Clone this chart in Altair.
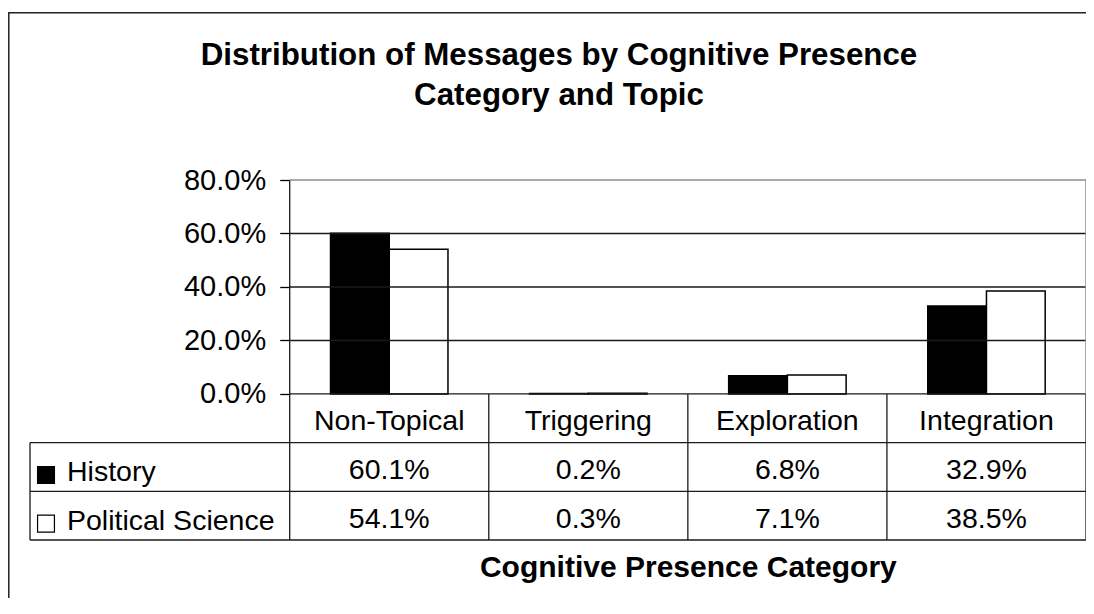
import altair as alt
import pandas as pd

# ---- data ----
categories = ["Non-Topical", "Triggering", "Exploration", "Integration"]
series = ["History", "Political Science"]
history = [60.1, 0.2, 6.8, 32.9]
political_science = [54.1, 0.3, 7.1, 38.5]
y_ticks = [0, 20, 40, 60, 80]
title_lines = ["Distribution of Messages by Cognitive Presence", "Category and Topic"]
x_title = "Cognitive Presence Category"

# ---- layout constants (style, not data) ----
FONT = "Liberation Sans, Arial, sans-serif"
W, H = 1056, 360
NCAT = len(categories)
ROW = 18.2      # table row height in y units
LEG = 1.3046    # legend column width in category-column units
BW = 0.295      # bar width in category-column units
Y_MAX = y_ticks[-1]
Y_MIN = -3 * ROW
PX = W / (NCAT + LEG)
BORDER_TOP = -167.3

xs = alt.Scale(domain=[-LEG, NCAT], nice=False, zero=False)
ys = alt.Scale(domain=[Y_MIN, Y_MAX], nice=False, zero=False)

values = {"History": history, "Political Science": political_science}
rows = []
for si, s in enumerate(series):
    for ci, c in enumerate(categories):
        rows.append({"series": s, "si": si, "cat": c, "ci": ci, "value": values[s][ci]})
df = pd.DataFrame(rows)

fill = alt.Fill("series:N", scale=alt.Scale(domain=series, range=["#000000", "#ffffff"]), legend=None)

bars = alt.Chart(df).transform_calculate(
    x0=f"datum.ci + 0.5 - {BW} + datum.si * {BW}",
    x1=f"datum.ci + 0.5 + datum.si * {BW}",
    zero="0",
).mark_rect(stroke="black", strokeWidth=1.5).encode(
    x=alt.X("x0:Q", scale=xs, axis=alt.Axis(
        title=x_title, labels=False, ticks=False, domain=False, grid=False,
        titleX=LEG * PX + NCAT * PX / 2, titleY=36, titleBaseline="alphabetic",
        titleFont=FONT, titleFontSize=30, titleFontWeight="bold", titleColor="black")),
    x2="x1:Q",
    y=alt.Y("value:Q", scale=ys, axis=alt.Axis(
        values=y_ticks, labelExpr="format(datum.value, '.1f') + '%'",
        title=None, domain=False, grid=False, offset=-LEG * PX,
        tickSize=10, tickColor="black", tickWidth=1.3,
        labelFont=FONT, labelFontSize=29, labelColor="black", labelPadding=14)),
    y2="zero:Q",
    fill=fill,
)

# structural lines of plot frame and data table
black_lines = []
for t in y_ticks[1:-1]:
    black_lines.append({"x": 0, "x2": NCAT, "y": t, "y2": t})
black_lines.append({"x": 0, "x2": 0, "y": Y_MAX, "y2": Y_MIN})
black_lines.append({"x": 0, "x2": NCAT, "y": 0, "y2": 0})
for k in range(1, 4):
    black_lines.append({"x": -LEG, "x2": NCAT, "y": -k * ROW, "y2": -k * ROW})
for i in range(1, NCAT + 1):
    black_lines.append({"x": i, "x2": i, "y": 0, "y2": Y_MIN})
black_lines.append({"x": -LEG, "x2": -LEG, "y": -ROW, "y2": Y_MIN})
grey_lines = [
    {"x": 0, "x2": NCAT, "y": Y_MAX, "y2": Y_MAX},
    {"x": NCAT, "x2": NCAT, "y": 0, "y2": Y_MAX},
]

def rules(data, color, width):
    return alt.Chart(pd.DataFrame(data)).mark_rule(color=color, strokeWidth=width).encode(
        x=alt.X("x:Q", scale=xs), x2="x2:Q",
        y=alt.Y("y:Q", scale=ys), y2="y2:Q",
    )

grid = rules(black_lines, "#1a1a1a", 1.3)
frame = rules(grey_lines, "#8c8c8c", 1.5)

text_style = dict(font=FONT, fontSize=28.5, color="black", baseline="middle")

header = alt.Chart(pd.DataFrame({"cat": categories, "ci": list(range(NCAT))})).transform_calculate(
    xc="datum.ci + 0.5", yc=f"{-ROW / 2}"
).mark_text(align="center", dy=3, **text_style).encode(
    x=alt.X("xc:Q", scale=xs), y=alt.Y("yc:Q", scale=ys), text="cat:N")

cells = alt.Chart(df).transform_calculate(
    xc="datum.ci + 0.5", yc=f"-(datum.si + 1.5) * {ROW}",
    label="format(datum.value, '.1f') + '%'"
).mark_text(align="center", dy=3, **text_style).encode(
    x=alt.X("xc:Q", scale=xs), y=alt.Y("yc:Q", scale=ys), text="label:N")

ser_df = pd.DataFrame({"series": series, "si": list(range(len(series)))})
names = alt.Chart(ser_df).transform_calculate(
    xc=f"{-LEG}", yc=f"-(datum.si + 1.5) * {ROW}"
).mark_text(align="left", dx=37, dy=5, **text_style).encode(
    x=alt.X("xc:Q", scale=xs), y=alt.Y("yc:Q", scale=ys), text="series:N")

swatches = alt.Chart(ser_df).transform_calculate(
    xc=f"{-LEG}", yc=f"-(datum.si + 1.5) * {ROW}"
).mark_square(size=285, stroke="black", strokeWidth=1.2, opacity=1, xOffset=16, yOffset=8).encode(
    x=alt.X("xc:Q", scale=xs), y=alt.Y("yc:Q", scale=ys), fill=fill)

border = alt.Chart(pd.DataFrame({"a": [0]})).mark_rect(
    fillOpacity=0, stroke="#222", strokeWidth=1.5
).encode(x=alt.value(-21.2), x2=alt.value(W + 40), y=alt.value(BORDER_TOP), y2=alt.value(H + 120))

# title is placed relative to the group bounds (top = border top); shift it back down
title_bottom = -36.5
chart = alt.layer(bars, border, grid, frame, header, cells, names, swatches).properties(
    width=W, height=H,
    background="white",
    autosize=alt.AutoSizeParams(type="none"),
    padding={"left": 22, "top": 172, "right": 0, "bottom": 58},
    title=alt.TitleParams(text=title_lines, font=FONT, fontSize=31.3, fontWeight="bold",
                          color="black", anchor="middle", lineHeight=40, dx=1,
                          offset=(BORDER_TOP - 0.75) - title_bottom,
                          baseline="bottom", frame="group"),
).configure_view(stroke=None)

chart.save("out.html", embed_options={"renderer": "svg", "actions": False})
